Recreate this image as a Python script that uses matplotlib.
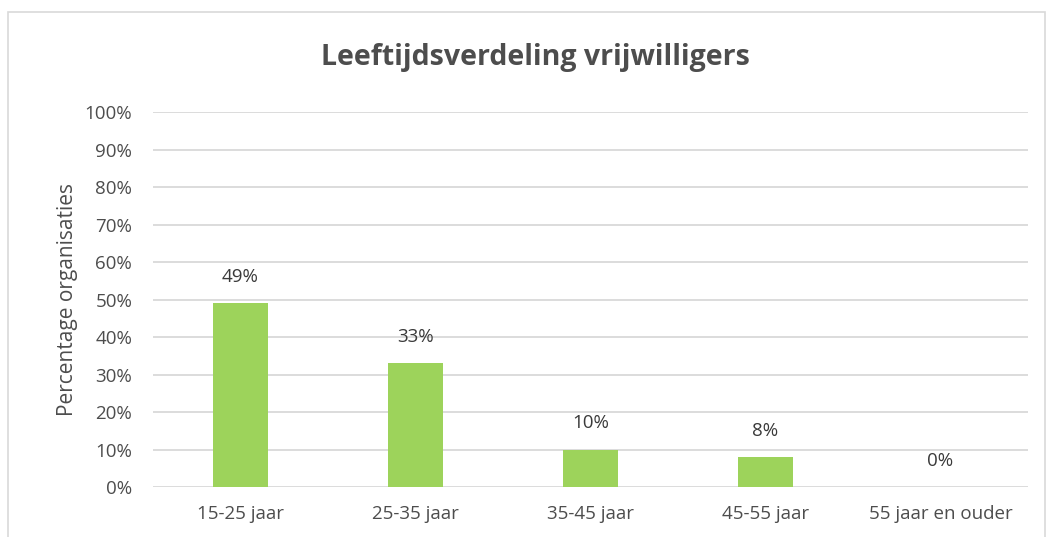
import matplotlib.pyplot as plt
from matplotlib.patches import Rectangle

# data
categories = ["15-25 jaar", "25-35 jaar", "35-45 jaar", "45-55 jaar", "55 jaar en ouder"]
values = [49, 33, 10, 8, 0]
labels = ["49%", "33%", "10%", "8%", "0%"]
y_ticks = [0, 10, 20, 30, 40, 50, 60, 70, 80, 90, 100]

plt.rcParams['font.family'] = ['Open Sans', 'DejaVu Sans']
txt = "#4d4d4d"

fig = plt.figure(figsize=(10.5, 5.37), dpi=100)
ax = fig.add_axes([0.1457, 0.0931, 0.8333, 0.6983])

# outer frame of the chart
fig.patches.append(Rectangle((8 / 1050, -0.01), 1037 / 1050, 1 - 12 / 537 + 0.01,
                             transform=fig.transFigure, fill=False,
                             edgecolor="#d9d9d9", linewidth=1.2))

x = range(len(categories))
ax.bar(x, values, width=0.31, color="#9dd35b", zorder=3)

for i, v in enumerate(values):
    ax.annotate(labels[i], (i, v), xytext=(0, 19), textcoords="offset points",
                ha="center", va="center", fontsize=13.5, color="#3a3a3a")

ax.set_xlim(-0.5, len(categories) - 0.5)
ax.set_ylim(0, 100)
ax.set_yticks(y_ticks)
ax.set_yticklabels([f"{t}%" for t in y_ticks])
ax.set_xticks(list(x))
ax.set_xticklabels(categories)
ax.tick_params(axis="both", length=0, labelsize=13.5, labelcolor=txt)
ax.tick_params(axis="y", pad=15)
ax.tick_params(axis="x", pad=13)
ax.grid(axis="y", color="#d9d9d9", linewidth=1.3, zorder=0)
for s in ax.spines.values():
    s.set_visible(False)

ax.set_ylabel("Percentage organisaties", fontsize=15, color=txt, labelpad=5)
fig.text(0.51, 1 - 58 / 537, "Leeftijdsverdeling vrijwilligers", ha="center", va="center",
         fontsize=20.5, fontweight="bold", color=txt)

fig.savefig("out.png", dpi=100)
